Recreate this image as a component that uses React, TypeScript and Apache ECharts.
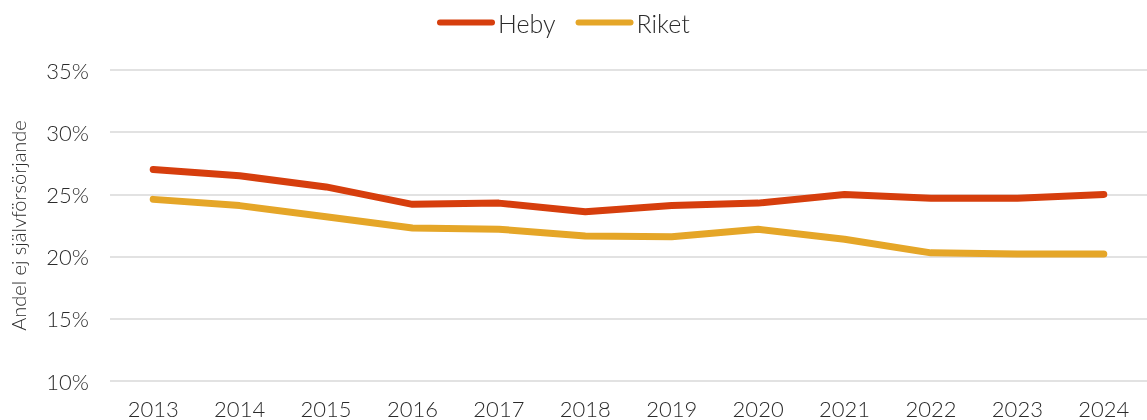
import React, { useEffect, useRef } from "react";
import * as echarts from "echarts";

const years = ["2013", "2014", "2015", "2016", "2017", "2018", "2019", "2020", "2021", "2022", "2023", "2024"];
const heby = [27.0, 26.5, 25.6, 24.2, 24.3, 23.6, 24.1, 24.3, 25.0, 24.7, 24.7, 25.0];
const riket = [24.6, 24.1, 23.2, 22.3, 22.2, 21.65, 21.6, 22.2, 21.4, 20.3, 20.2, 20.2];
const seriesNames = ["Heby", "Riket"];
const colors = ["#D63E0D", "#E5A628"];
const yAxisTitle = "Andel ej självförsörjande";

const FONT = "Lato, 'Noto Sans', sans-serif";
const TEXT = "#2b2b2b";
const legendIcon = "path://M3,0 L55,0 A3,3 0 0 1 55,6 L3,6 A3,3 0 0 1 3,0 Z";

export default function App() {
  const ref = useRef<HTMLDivElement>(null);

  useEffect(() => {
    if (!ref.current) return;
    const chart = echarts.init(ref.current, null, { renderer: "svg" });
    const values = [heby, riket];
    chart.setOption({
      animation: false,
      color: colors,
      textStyle: { fontFamily: FONT },
      legend: {
        top: 10,
        left: 437,
        padding: 0,
        itemWidth: 58,
        itemHeight: 7,
        itemGap: 20,
        icon: legendIcon,
        textStyle: { fontSize: 25, color: TEXT, fontWeight: 300, fontFamily: FONT, padding: [0, 0, 0, -2] },
        data: seriesNames,
      },
      grid: { left: 106, top: 70, bottom: 39, width: 1055 },
      xAxis: {
        type: "category",
        data: years,
        boundaryGap: true,
        axisLine: { show: false },
        axisTick: { show: false },
        axisLabel: { fontSize: 22, color: TEXT, fontWeight: 300, margin: 16, fontFamily: FONT },
      },
      yAxis: {
        type: "value",
        min: 10,
        max: 35,
        interval: 5,
        name: yAxisTitle,
        nameLocation: "middle",
        nameGap: 82,
        nameTextStyle: { fontSize: 20, color: TEXT, fontWeight: 300, fontFamily: FONT },
        axisLine: { show: false },
        axisTick: { show: false },
        splitLine: { lineStyle: { color: "#d9d9d9", width: 1.5 } },
        axisLabel: { fontSize: 22, color: TEXT, fontWeight: 300, margin: 21, formatter: "{value}%", fontFamily: FONT },
      },
      series: seriesNames.map((name, i) => ({
        name,
        type: "line",
        data: values[i],
        symbol: "none",
        lineStyle: { width: 7, color: colors[i], cap: "round", join: "round" },
        itemStyle: { color: colors[i] },
      })),
    });
    return () => chart.dispose();
  }, []);

  return <div ref={ref} style={{ position: "fixed", left: 0, top: 0, width: 1147, height: 420 }} />;
}
